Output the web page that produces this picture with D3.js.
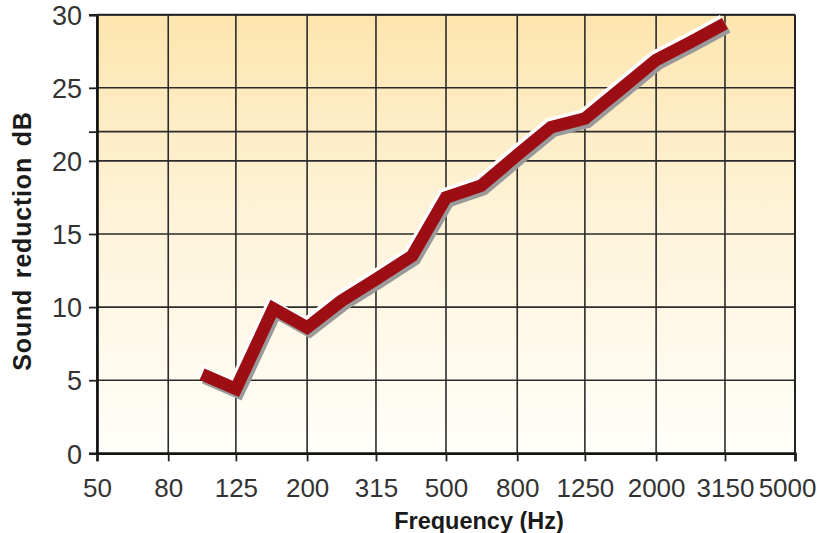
<!DOCTYPE html>
<html>
<head>
<meta charset="utf-8">
<script src="https://cdn.jsdelivr.net/npm/d3@7"></script>
<style>
  html, body { margin: 0; padding: 0; background: #ffffff; }
  svg { display: block; }
</style>
</head>
<body>
<svg id="chart" width="818" height="533"></svg>
<script>
// ---- data ----
const frequencies = [100, 125, 160, 200, 250, 315, 400, 500, 630, 800, 1000, 1250, 1600, 2000, 2500, 3150];
const reduction   = [5.4, 4.4, 9.9, 8.6, 10.4, 11.9, 13.5, 17.5, 18.3, 20.4, 22.3, 22.9, 25.0, 26.9, 28.1, 29.4];
const xTickValues = [50, 80, 125, 200, 315, 500, 800, 1250, 2000, 3150, 5000];
const yTickValues = [0, 5, 10, 15, 20, 22, 25, 30];
const yLabelled   = [0, 5, 10, 15, 20, 25, 30];
const xTitle = "Frequency (Hz)";
const yTitle = "Sound reduction dB";

(function () {
// ---- layout ----
const svg = d3.select("#chart");
const pLeft = 97, pRight = 795, pTop = 14.7, pBottom = 453.3;

const x = d3.scaleLog().domain([50, 5000]).range([pLeft, pRight]);
const y = d3.scaleLinear().domain([0, 30]).range([pBottom, pTop]);

// background gradient
const defs = svg.append("defs");
const grad = defs.append("linearGradient").attr("id", "bg")
  .attr("x1", 0).attr("y1", 0).attr("x2", 0).attr("y2", 1);
grad.append("stop").attr("offset", "0%").attr("stop-color", "#fde5ae");
grad.append("stop").attr("offset", "45%").attr("stop-color", "#fef3d8");
grad.append("stop").attr("offset", "100%").attr("stop-color", "#fffefa");

svg.append("rect")
  .attr("x", pLeft).attr("y", pTop)
  .attr("width", pRight - pLeft).attr("height", pBottom - pTop)
  .attr("fill", "url(#bg)");

// grid lines
const grid = svg.append("g").attr("stroke", "#2b2b2b").attr("stroke-width", 1.6);
grid.selectAll("line.v").data(xTickValues).join("line")
  .attr("class", "v")
  .attr("x1", d => x(d)).attr("x2", d => x(d))
  .attr("y1", pTop).attr("y2", pBottom);
grid.selectAll("line.h").data(yTickValues).join("line")
  .attr("class", "h")
  .attr("x1", pLeft).attr("x2", pRight)
  .attr("y1", d => y(d)).attr("y2", d => y(d));

// axes
const fontTick = "'Liberation Sans', Arial, Helvetica, sans-serif";

const yAxis = svg.append("g")
  .attr("transform", `translate(${pLeft},0)`)
  .call(d3.axisLeft(y).tickValues(yTickValues).tickSize(8).tickPadding(7)
    .tickFormat(d => yLabelled.includes(d) ? String(d) : ""));
yAxis.select(".domain").attr("stroke", "#111").attr("stroke-width", 2.6);
yAxis.selectAll(".tick line").attr("stroke", "#222").attr("stroke-width", 1.8);
yAxis.selectAll(".tick text")
  .attr("fill", "#333").attr("font-size", 27).attr("font-family", fontTick)
  .attr("x", -15).attr("dy", "0.36em");

const xAxis = svg.append("g")
  .attr("transform", `translate(0,${pBottom})`)
  .call(d3.axisBottom(x).tickValues(xTickValues).tickSize(8).tickFormat(d3.format("d")));
xAxis.select(".domain").attr("stroke", "#111").attr("stroke-width", 2.6);
xAxis.selectAll(".tick line").attr("stroke", "#222").attr("stroke-width", 1.8);
xAxis.selectAll(".tick text")
  .attr("fill", "#333").attr("font-size", 26).attr("font-family", fontTick)
  .attr("y", 44).attr("dy", null);
// keep the last label inside the picture
xAxis.selectAll(".tick text").filter(d => d === xTickValues[xTickValues.length - 1])
  .attr("text-anchor", "end").attr("x", 21);

// top and right border
svg.append("line").attr("x1", pLeft).attr("x2", pRight).attr("y1", pTop).attr("y2", pTop)
  .attr("stroke", "#222").attr("stroke-width", 2);
svg.append("line").attr("x1", pRight).attr("x2", pRight).attr("y1", pTop).attr("y2", pBottom)
  .attr("stroke", "#222").attr("stroke-width", 2);

// data line with highlight and shadow
const pts = frequencies.map((f, i) => ({ f, v: reduction[i] }));
const line = d3.line().x(d => x(d.f)).y(d => y(d.v));

const lineG = svg.append("g").attr("fill", "none")
  .attr("stroke-linejoin", "miter").attr("stroke-linecap", "butt").attr("stroke-width", 12.5);
lineG.append("path").attr("d", line(pts))
  .attr("stroke", "#9a9a9a").attr("transform", "translate(2.5,3.5)");
lineG.append("path").attr("d", line(pts))
  .attr("stroke", "#ffffff").attr("transform", "translate(-2,-3)");
lineG.append("path").attr("d", line(pts))
  .attr("stroke", "#9c0d14");

// titles
const fontTitle = "'Liberation Sans', Arial, Helvetica, sans-serif";
svg.append("text")
  .attr("x", 479).attr("y", 529)
  .attr("text-anchor", "middle")
  .attr("font-family", fontTitle).attr("font-weight", "bold")
  .attr("font-size", 23.5).attr("fill", "#1a1a1a")
  .text(xTitle);

svg.append("text")
  .attr("transform", "translate(30.5,241) rotate(-90)")
  .attr("text-anchor", "middle")
  .attr("font-family", fontTitle).attr("font-weight", "bold")
  .attr("font-size", 25).attr("fill", "#1a1a1a")
  .attr("letter-spacing", 0.8).attr("word-spacing", 3)
  .text(yTitle);
})();
</script>
</body>
</html>
